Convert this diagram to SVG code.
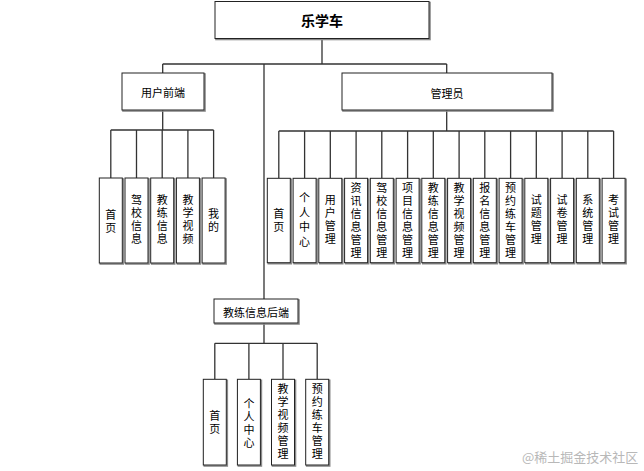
<svg xmlns="http://www.w3.org/2000/svg" width="644" height="471" viewBox="0 0 644 471">
<style>
.box{fill:#fff;stroke:#222;stroke-width:1}
.sh{fill:none;stroke:#8a8a8a;stroke-width:1.6}
.t{font-family:"Noto Sans CJK SC","Liberation Sans",sans-serif;font-size:11px;fill:#000;text-anchor:middle;dominant-baseline:central}
.big{font-size:14px;font-weight:bold}
.v{writing-mode:vertical-rl;letter-spacing:2px;dominant-baseline:auto}
.w{letter-spacing:3.4px}
.ln{fill:none;stroke:#333;stroke-width:1.3}
.wm{font-family:"Noto Sans CJK SC","Liberation Sans",sans-serif;font-size:13px;fill:#b8b8b8}
</style>
<rect width="644" height="471" fill="#fff"/>
<g id="connectors">
<path class="ln" d="M322,38 V64 M162.7,64 H446.7 M162.7,64 V73 M446.7,64 V73 M264,64 V299"/>
<path class="ln" d="M162.7,110 V130 M110.8,130 H213.6 M110.8,130 V178 M136.5,130 V178 M162.2,130 V178 M187.9,130 V178 M213.6,130 V178"/>
<path class="ln" d="M446.7,110 V131 M278.8,131 H613.6 M278.8,131 V178 M304.6,131 V178 M330.3,131 V178 M356.1,131 V178 M381.8,131 V178 M407.6,131 V178 M433.3,131 V178 M459.1,131 V178 M484.8,131 V178 M510.6,131 V178 M536.3,131 V178 M562.1,131 V178 M587.8,131 V178 M613.6,131 V178"/>
<path class="ln" d="M264,323 V343.3 M214.8,343.3 H317.2 M214.8,343.3 V379 M248.9,343.3 V379 M283,343.3 V379 M317.2,343.3 V379"/>
</g>
<g id="root"><rect class="sh" x="216" y="2.5" width="214" height="37"/><rect class="box" x="215" y="1.5" width="214" height="37"/><text class="t big" x="322" y="19.5">乐学车</text></g>
<g id="front"><rect class="sh" x="123" y="74" width="82" height="37"/><rect class="box" x="122" y="73" width="82" height="37"/><text class="t" x="163" y="92">用户前端</text></g>
<g id="admin"><rect class="sh" x="343" y="74" width="210" height="37"/><rect class="box" x="342" y="73" width="210" height="37"/><text class="t" x="447" y="92.5">管理员</text></g>
<g id="coach"><rect class="sh" x="215" y="300" width="84" height="24"/><rect class="box" x="214" y="299" width="84" height="24"/><text class="t" x="256" y="311.5">教练信息后端</text></g>

<g id="f1"><rect class="sh" x="100.3" y="179" width="23" height="85"/><rect class="box" x="99.3" y="178" width="23" height="85"/><text class="t v" x="110.8" y="222">首页</text></g>
<g id="f2"><rect class="sh" x="126" y="179" width="23" height="85"/><rect class="box" x="125" y="178" width="23" height="85"/><text class="t v" x="136.5" y="220.5">驾校信息</text></g>
<g id="f3"><rect class="sh" x="151.7" y="179" width="23" height="85"/><rect class="box" x="150.7" y="178" width="23" height="85"/><text class="t v" x="162.2" y="220.5">教练信息</text></g>
<g id="f4"><rect class="sh" x="177.4" y="179" width="23" height="85"/><rect class="box" x="176.4" y="178" width="23" height="85"/><text class="t v" x="187.9" y="220.5">教学视频</text></g>
<g id="f5"><rect class="sh" x="203.1" y="179" width="23" height="85"/><rect class="box" x="202.1" y="178" width="23" height="85"/><text class="t v" x="213.6" y="221">我的</text></g>

<g id="a1"><rect class="sh" x="268.3" y="179.3" width="23" height="84.4"/><rect class="box" x="267.3" y="178.3" width="23" height="84.4"/><text class="t v" x="278.8" y="221.5">首页</text></g>
<g id="a2"><rect class="sh" x="294.1" y="179.3" width="23" height="84.4"/><rect class="box" x="293.1" y="178.3" width="23" height="84.4"/><text class="t v w" x="304.6" y="221.5">个人中心</text></g>
<g id="a3"><rect class="sh" x="319.8" y="179.3" width="23" height="84.4"/><rect class="box" x="318.8" y="178.3" width="23" height="84.4"/><text class="t v" x="330.3" y="220.5">用户管理</text></g>
<g id="a4"><rect class="sh" x="345.6" y="179.3" width="23" height="84.4"/><rect class="box" x="344.6" y="178.3" width="23" height="84.4"/><text class="t v" x="356.1" y="221">资讯信息管理</text></g>
<g id="a5"><rect class="sh" x="371.3" y="179.3" width="23" height="84.4"/><rect class="box" x="370.3" y="178.3" width="23" height="84.4"/><text class="t v" x="381.8" y="221">驾校信息管理</text></g>
<g id="a6"><rect class="sh" x="397.1" y="179.3" width="23" height="84.4"/><rect class="box" x="396.1" y="178.3" width="23" height="84.4"/><text class="t v" x="407.6" y="221">项目信息管理</text></g>
<g id="a7"><rect class="sh" x="422.8" y="179.3" width="23" height="84.4"/><rect class="box" x="421.8" y="178.3" width="23" height="84.4"/><text class="t v" x="433.3" y="221">教练信息管理</text></g>
<g id="a8"><rect class="sh" x="448.6" y="179.3" width="23" height="84.4"/><rect class="box" x="447.6" y="178.3" width="23" height="84.4"/><text class="t v" x="459.1" y="221">教学视频管理</text></g>
<g id="a9"><rect class="sh" x="474.3" y="179.3" width="23" height="84.4"/><rect class="box" x="473.3" y="178.3" width="23" height="84.4"/><text class="t v" x="484.8" y="221">报名信息管理</text></g>
<g id="a10"><rect class="sh" x="500.1" y="179.3" width="23" height="84.4"/><rect class="box" x="499.1" y="178.3" width="23" height="84.4"/><text class="t v" x="510.6" y="221">预约练车管理</text></g>
<g id="a11"><rect class="sh" x="525.8" y="179.3" width="23" height="84.4"/><rect class="box" x="524.8" y="178.3" width="23" height="84.4"/><text class="t v" x="536.3" y="220.5">试题管理</text></g>
<g id="a12"><rect class="sh" x="551.6" y="179.3" width="23" height="84.4"/><rect class="box" x="550.6" y="178.3" width="23" height="84.4"/><text class="t v" x="562.1" y="220.5">试卷管理</text></g>
<g id="a13"><rect class="sh" x="577.3" y="179.3" width="23" height="84.4"/><rect class="box" x="576.3" y="178.3" width="23" height="84.4"/><text class="t v" x="587.8" y="220.5">系统管理</text></g>
<g id="a14"><rect class="sh" x="603.1" y="179.3" width="23" height="84.4"/><rect class="box" x="602.1" y="178.3" width="23" height="84.4"/><text class="t v" x="613.6" y="220.5">考试管理</text></g>

<g id="c1"><rect class="sh" x="204.3" y="380.3" width="23" height="85.7"/><rect class="box" x="203.3" y="379.3" width="23" height="85.7"/><text class="t v" x="214.8" y="423.5">首页</text></g>
<g id="c2"><rect class="sh" x="238.4" y="380.3" width="23" height="85.7"/><rect class="box" x="237.4" y="379.3" width="23" height="85.7"/><text class="t v" x="248.9" y="424.5">个人中心</text></g>
<g id="c3"><rect class="sh" x="272.5" y="380.3" width="23" height="85.7"/><rect class="box" x="271.5" y="379.3" width="23" height="85.7"/><text class="t v" x="283" y="422.7">教学视频管理</text></g>
<g id="c4"><rect class="sh" x="306.7" y="380.3" width="23" height="85.7"/><rect class="box" x="305.7" y="379.3" width="23" height="85.7"/><text class="t v" x="317.2" y="422.7">预约练车管理</text></g>

<text class="wm" x="522" y="461.5">@稀土掘金技术社区</text>
</svg>
